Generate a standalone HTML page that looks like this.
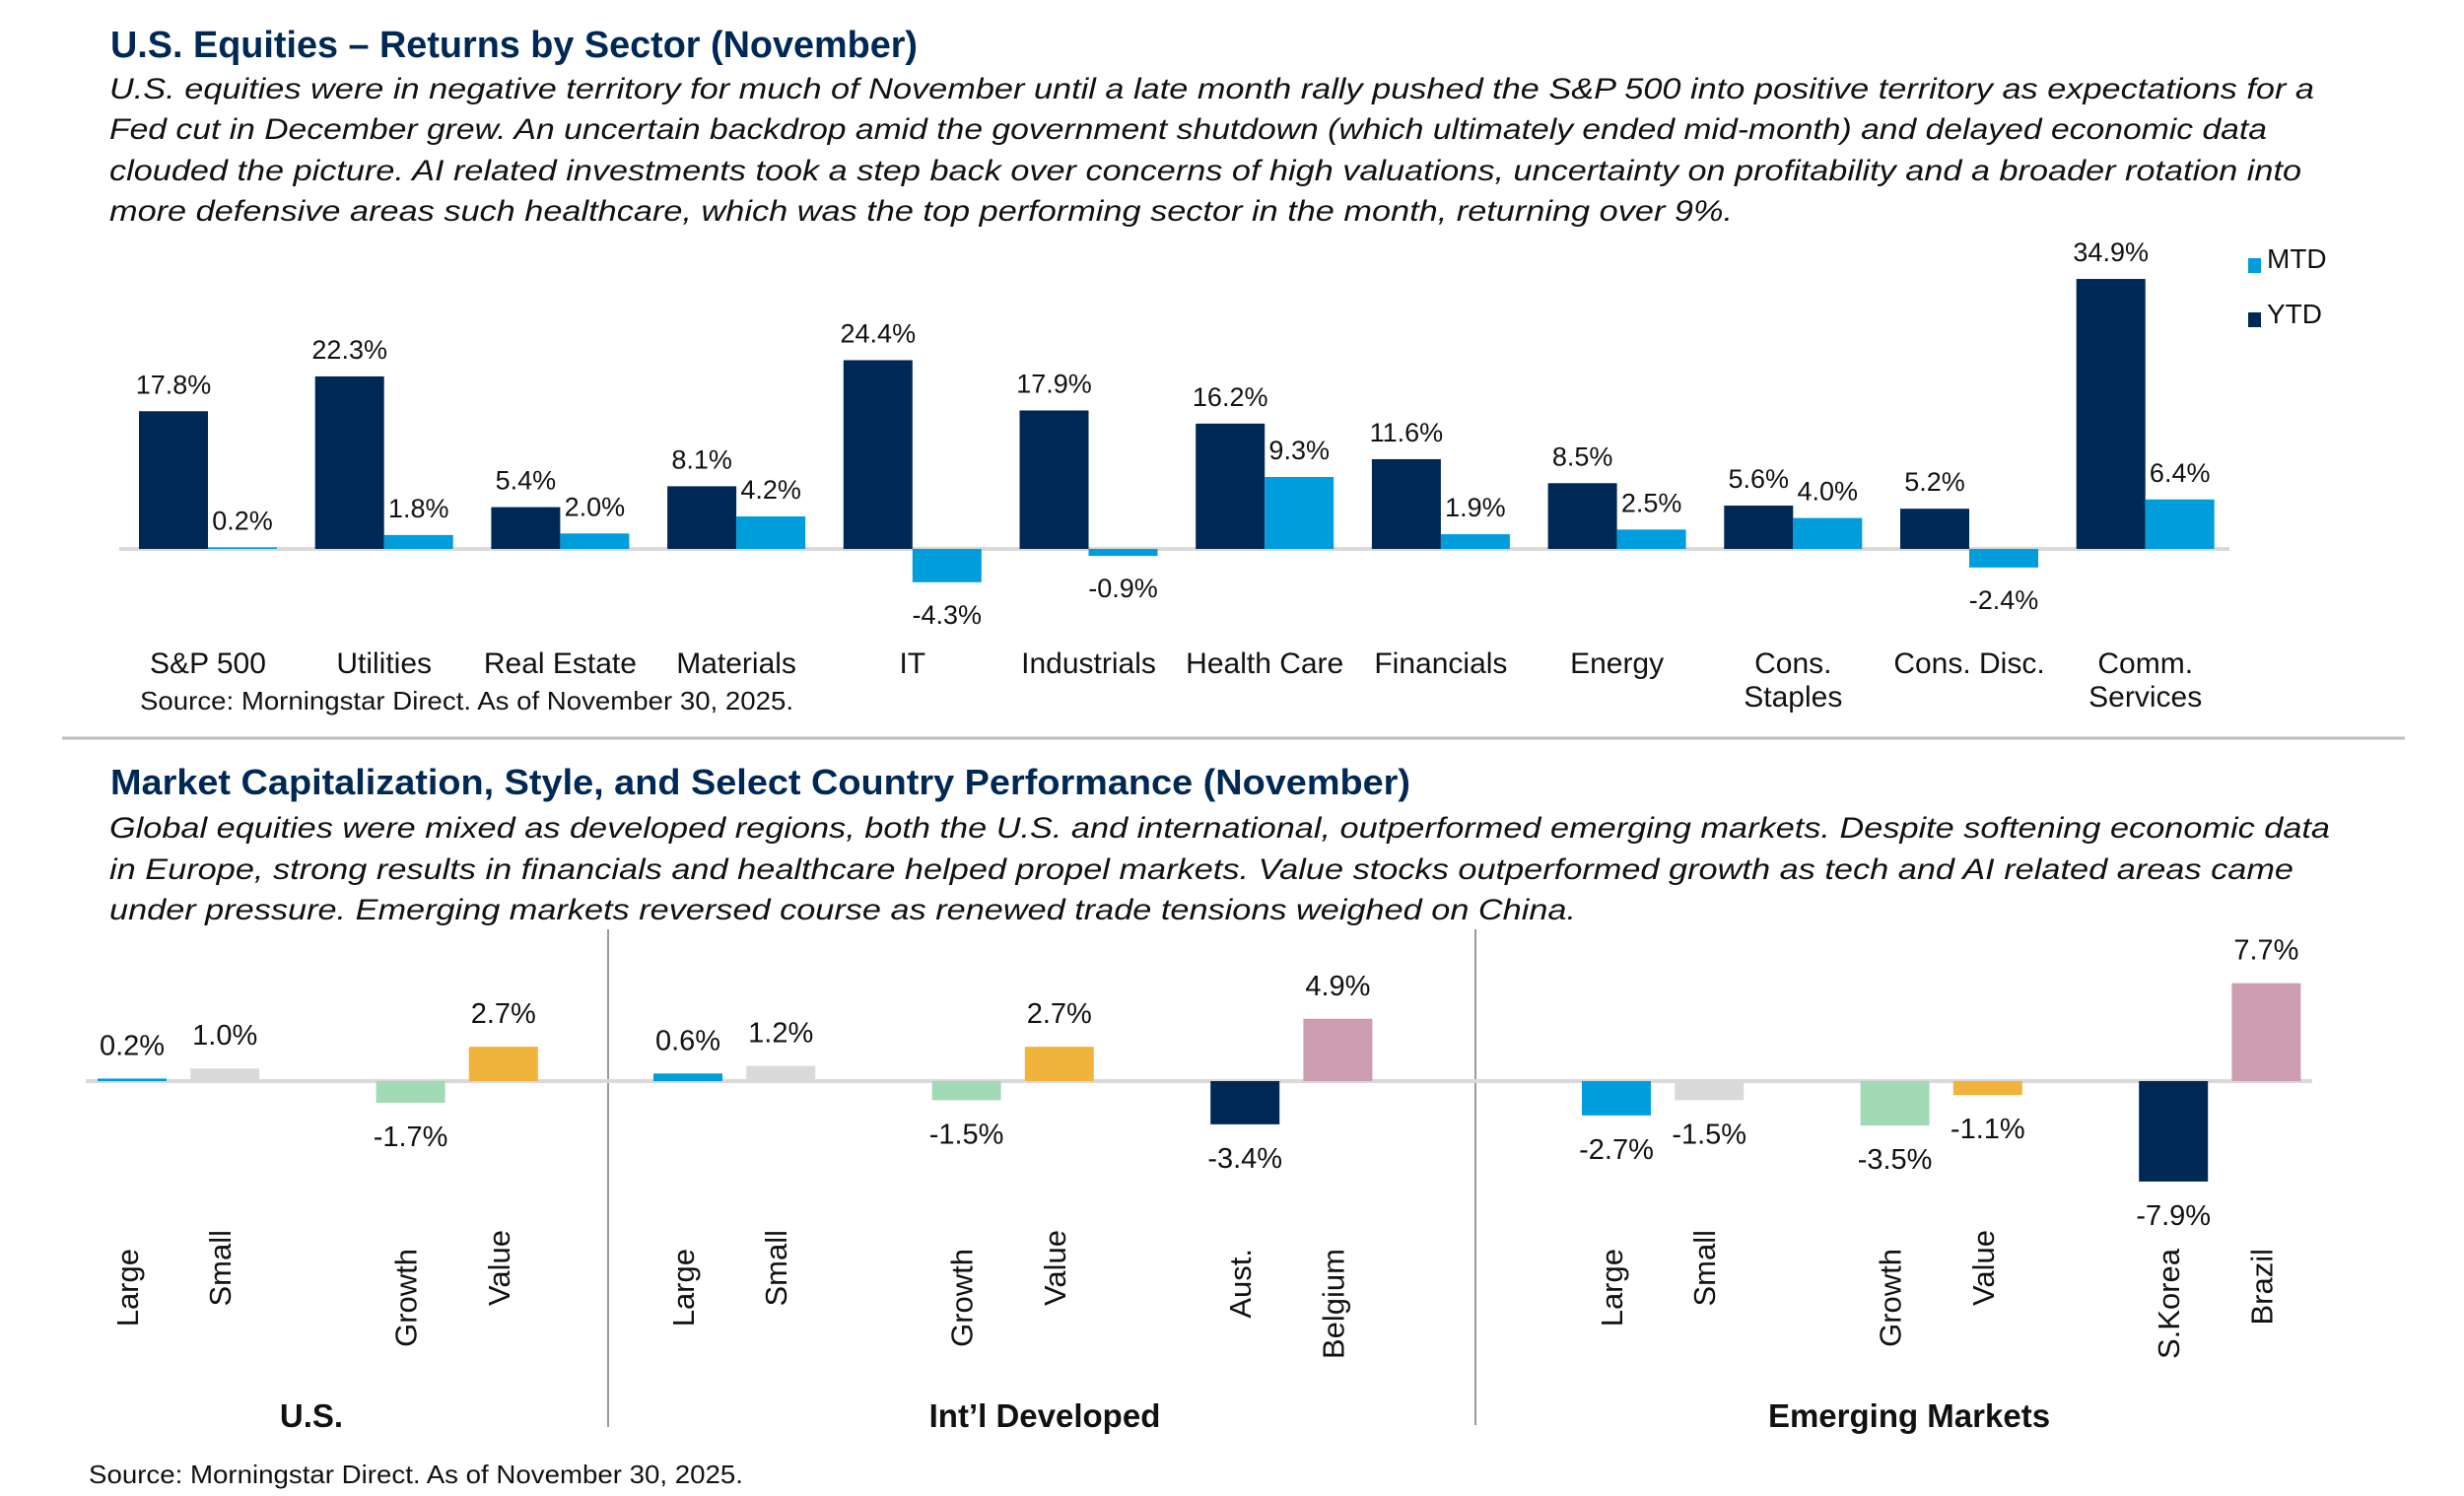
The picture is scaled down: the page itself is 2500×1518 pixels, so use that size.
<!DOCTYPE html>
<html><head><meta charset="utf-8"><style>
html,body{margin:0;padding:0;background:#fff;}
svg{display:block;font-family:"Liberation Sans",Arial,sans-serif;}
</style></head><body>
<svg id="chart" width="2500" height="1518" viewBox="0 0 2500 1518" xmlns="http://www.w3.org/2000/svg">
<rect width="2500" height="1518" fill="#fff"/>
<text x="112" y="58" font-size="38" font-weight="bold" fill="#002855" textLength="819" lengthAdjust="spacingAndGlyphs">U.S. Equities – Returns by Sector (November)</text>
<g font-size="30" font-style="italic" fill="#111">
<text x="111" y="100" textLength="2237" lengthAdjust="spacingAndGlyphs">U.S. equities were in negative territory for much of November until a late month rally pushed the S&amp;P 500 into positive territory as expectations for a</text>
<text x="111" y="141" textLength="2189" lengthAdjust="spacingAndGlyphs">Fed cut in December grew. An uncertain backdrop amid the government shutdown (which ultimately ended mid-month) and delayed economic data</text>
<text x="111" y="183" textLength="2224" lengthAdjust="spacingAndGlyphs">clouded the picture. AI related investments took a step back over concerns of high valuations, uncertainty on profitability and a broader rotation into</text>
<text x="111" y="224" textLength="1647" lengthAdjust="spacingAndGlyphs">more defensive areas such healthcare, which was the top performing sector in the month, returning over 9%.</text>
</g>
<g>
<rect x="2281" y="262" width="13" height="15" fill="#009ddc"/>
<text x="2300" y="272" font-size="28" fill="#111">MTD</text>
<rect x="2281" y="317" width="13" height="15" fill="#002855"/>
<text x="2300" y="328" font-size="28" fill="#111">YTD</text>
</g>
<g id="topChart"></g>
<text x="142" y="720" font-size="26" fill="#111" textLength="663" lengthAdjust="spacingAndGlyphs">Source: Morningstar Direct. As of November 30, 2025.</text>
<line x1="63" y1="749" x2="2440" y2="749" stroke="#bdbdbd" stroke-width="3"/>
<text x="112" y="806" font-size="36" font-weight="bold" fill="#002855" textLength="1319" lengthAdjust="spacingAndGlyphs">Market Capitalization, Style, and Select Country Performance (November)</text>
<g font-size="30" font-style="italic" fill="#111">
<text x="111" y="850" textLength="2253" lengthAdjust="spacingAndGlyphs">Global equities were mixed as developed regions, both the U.S. and international, outperformed emerging markets. Despite softening economic data</text>
<text x="111" y="892" textLength="2216" lengthAdjust="spacingAndGlyphs">in Europe, strong results in financials and healthcare helped propel markets. Value stocks outperformed growth as tech and AI related areas came</text>
<text x="111" y="933" textLength="1488" lengthAdjust="spacingAndGlyphs">under pressure. Emerging markets reversed course as renewed trade tensions weighed on China.</text>
</g>
<line x1="617" y1="943" x2="617" y2="1448" stroke="#999" stroke-width="2"/>
<line x1="1497" y1="943" x2="1497" y2="1446" stroke="#999" stroke-width="2"/>
<g id="bottomChart"></g>
<text x="90" y="1505" font-size="26" fill="#111" textLength="664" lengthAdjust="spacingAndGlyphs">Source: Morningstar Direct. As of November 30, 2025.</text>
</svg>
<script>
// ---- top chart data ----
const sectors = ["S&P 500","Utilities","Real Estate","Materials","IT","Industrials","Health Care","Financials","Energy","Cons.|Staples","Cons. Disc.","Comm.|Services"];
const ytdValues = [17.8,22.3,5.4,8.1,24.4,17.9,16.2,11.6,8.5,5.6,5.2,34.9];
const mtdValues = [0.2,1.8,2.0,4.2,-4.3,-0.9,9.3,1.9,2.5,4.0,-2.4,6.4];

// ---- bottom chart data ----
const panelTitles = ["U.S.","Int\u2019l Developed","Emerging Markets"];
const usLabels = ["Large","Small","Growth","Value"];
const usValues = [0.2,1.0,-1.7,2.7];
const intlLabels = ["Large","Small","Growth","Value","Aust.","Belgium"];
const intlValues = [0.6,1.2,-1.5,2.7,-3.4,4.9];
const emLabels = ["Large","Small","Growth","Value","S.Korea","Brazil"];
const emValues = [-2.7,-1.5,-3.5,-1.1,-7.9,7.7];

const NS = "http://www.w3.org/2000/svg";
function mk(parent, tag, attrs, text){
  const e = document.createElementNS(NS, tag);
  for (const k in attrs) e.setAttribute(k, attrs[k]);
  if (text !== undefined) e.textContent = text;
  parent.appendChild(e);
  return e;
}
const fmt = v => v.toFixed(1) + "%";

// top axis functions
const topZero = 557, topK = 7.85;
const topY = v => topZero - v * topK;
const topX = i => 141 + i * 178.7;
const BW = 70;
const topG = document.getElementById("topChart");
const zl = mk(topG, "line", {x1:121, y1:topZero, x2:2262, y2:topZero, stroke:"#d9d9d9", "stroke-width":4});



sectors.forEach((name, i) => {
  const g = mk(topG, "g", {});
  
  
  const series = [[ytdValues[i], "#002855", "ytd"], [mtdValues[i], "#009ddc", "mtd"]];
  series.forEach(([v, c, s], j) => {
    const x = topX(i) + j * BW;
    const y0 = Math.min(topY(v), topZero), h = Math.abs(v) * topK;
    const r = mk(g, "rect", {x:x, y:y0, width:BW, height:Math.max(h,1), fill:c});
    
    
    const ly = v >= 0 ? topY(v) - 18 : topY(v) + 42;
    const t = mk(g, "text", {x:x + BW/2, y:ly, "font-size":27, "text-anchor":"middle", fill:"#111"}, fmt(v));
    
    
  });
  const lines = name.split("|");
  lines.forEach((ln, k) => {
    const t = mk(g, "text", {x:topX(i) + BW, y:683 + k*34, "font-size":30, "text-anchor":"middle", fill:"#111"}, ln);
    
    
  });
});

// bottom axis functions
const botZero = 1097, botK = 12.9;
const botY = v => botZero - v * botK;
const panelStart = [99, 663, 1605];
const slotIdx = [0,1,3,4,6,7];
const slotStep = 94.2;
const slotColors = ["#009ddc","#dadadc","#a1dab4","#f0b43c","#002855","#cc9cb1"];
const labelTopOffset = [0,-19,0,-19,0,0];
const panelCenters = [316, 1060, 1937];
const botG = document.getElementById("bottomChart");
const zl2 = mk(botG, "line", {x1:87, y1:botZero, x2:2346, y2:botZero, stroke:"#d9d9d9", "stroke-width":4});



[[usLabels, usValues],[intlLabels, intlValues],[emLabels, emValues]].forEach(([labels, vals], p) => {
  const g = mk(botG, "g", {});
  
  
  vals.forEach((v, i) => {
    const x = panelStart[p] + slotIdx[i] * slotStep;
    const y0 = Math.min(botY(v), botZero), h = Math.abs(v) * botK;
    const r = mk(g, "rect", {x:x, y:y0, width:BW, height:Math.max(h,1), fill:slotColors[i]});
    
    
    const ly = v >= 0 ? botY(v) - 24 : botY(v) + 44;
    const t = mk(g, "text", {x:x + BW/2, y:ly, "font-size":29, "text-anchor":"middle", fill:"#111"}, fmt(v));
    
    
    const cx = x + BW/2 + 6, cy = 1267 + labelTopOffset[i];
    const c = mk(g, "text", {x:0, y:0, transform:"translate(" + cx + "," + cy + ") rotate(-90)", "font-size":31, "text-anchor":"end", fill:"#111"}, labels[i]);
    
    
  });
  const tt = mk(g, "text", {x:panelCenters[p], y:1448, "font-size":33, "font-weight":"bold", "text-anchor":"middle", fill:"#111"}, panelTitles[p]);
  
  
});
</script>
</body></html>
